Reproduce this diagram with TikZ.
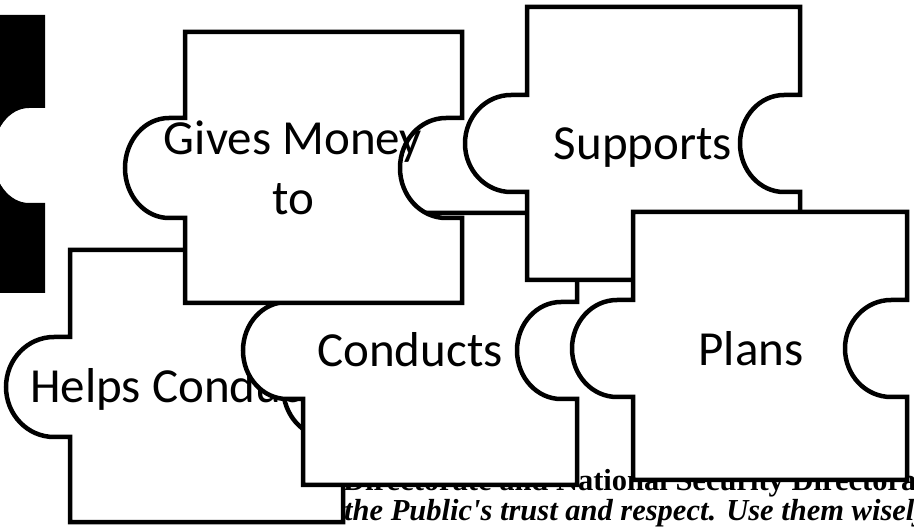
\documentclass[tikz,border=0pt]{standalone}
\usepackage{fontspec}
\newfontfamily\carl{Carlito}
\newfontfamily\tnr{Liberation Serif}
\tikzset{
  pzl/.style={draw=black, fill=white, line width=4.5pt, line join=miter},
  pzlblack/.style={fill=black},
  lbl/.style={font=\carl\fontsize{49}{60}\selectfont, inner sep=0pt, anchor=base, align=center},
  bgtxt/.style={font=\tnr\bfseries\fontsize{30.5}{36}\selectfont, inner sep=0pt, anchor=base west},
  bgit/.style={font=\tnr\bfseries\itshape\fontsize{30.5}{36}\selectfont, inner sep=0pt, anchor=base west},
}
% #1 style, #2 L, #3 T, #4 R, #5 B, #6 y1, #7 y2, #8 knob depth (left), #9 socket depth (right)
\newcommand\pz[9]{%
  \pgfmathsetmacro\pzym{(#6+#7)/2}%
  \pgfmathsetmacro\pzh{(#7-#6)/2*0.5523}%
  \pgfmathsetmacro\pzsx{#4-16}%
  \pgfmathsetmacro\pzsc{#4-16-(#9-16)*0.5523}%
  \pgfmathsetmacro\pzsd{#4-#9}%
  \pgfmathsetmacro\pzkx{#2-16}%
  \pgfmathsetmacro\pzkc{#2-16-(#8-16)*0.5523}%
  \pgfmathsetmacro\pzkd{#2-#8}%
  \path[#1] (#2,#3) -- (#4,#3) -- (#4,#6) -- (\pzsx,#6)
    .. controls (\pzsc,#6) and (\pzsd,{\pzym-\pzh}) .. (\pzsd,\pzym)
    .. controls (\pzsd,{\pzym+\pzh}) and (\pzsc,#7) .. (\pzsx,#7)
    -- (#4,#7) -- (#4,#5) -- (#2,#5) -- (#2,#7) -- (\pzkx,#7)
    .. controls (\pzkc,#7) and (\pzkd,{\pzym+\pzh}) .. (\pzkd,\pzym)
    .. controls (\pzkd,{\pzym-\pzh}) and (\pzkc,#6) .. (\pzkx,#6)
    -- (#2,#6) -- cycle;}
\begin{document}
\begin{tikzpicture}[x=1pt,y=-1pt]
  \useasboundingbox (0,0) rectangle (914,529);
  \clip (0,0) rectangle (914,529);
  \fill[white] (0,0) rectangle (914,529);
  % background text lines
  \node[bgtxt] (line1) at (343,491) {Directorate and National Security Directorate};
  \node[bgit] (line2) at (222,521) {You have the Public\textquotesingle s trust and respect. Use them wisely};
  % black piece
  \pz{pzlblack}{-229}{15}{45}{293}{108}{203}{60}{52}
  % Helps Conducts
  \pz{pzl}{70}{250}{343}{522}{337}{437}{64}{60}
  \node[lbl] (helps) at (184,403) {Helps Conducts};
  % Conducts
  \pz{pzl}{303}{213}{577}{485}{302}{399}{60}{60}
  \node[lbl] (conducts) at (410,367) {Conducts};
  % Gives Money to
  \pz{pzl}{185}{32}{462}{303}{118}{218}{60}{62}
  \node[lbl] (gives) at (293,215) {Gives Money\\to};
  % Supports
  \pz{pzl}{527}{7}{800}{280}{95}{192}{62}{60}
  \node[lbl] (supports) at (643,160) {Supports};
  % Plans
  \pz{pzl}{633}{212}{907}{480}{300}{397}{61}{62}
  \node[lbl] (plans) at (751,366) {Plans};
\end{tikzpicture}
\end{document}
